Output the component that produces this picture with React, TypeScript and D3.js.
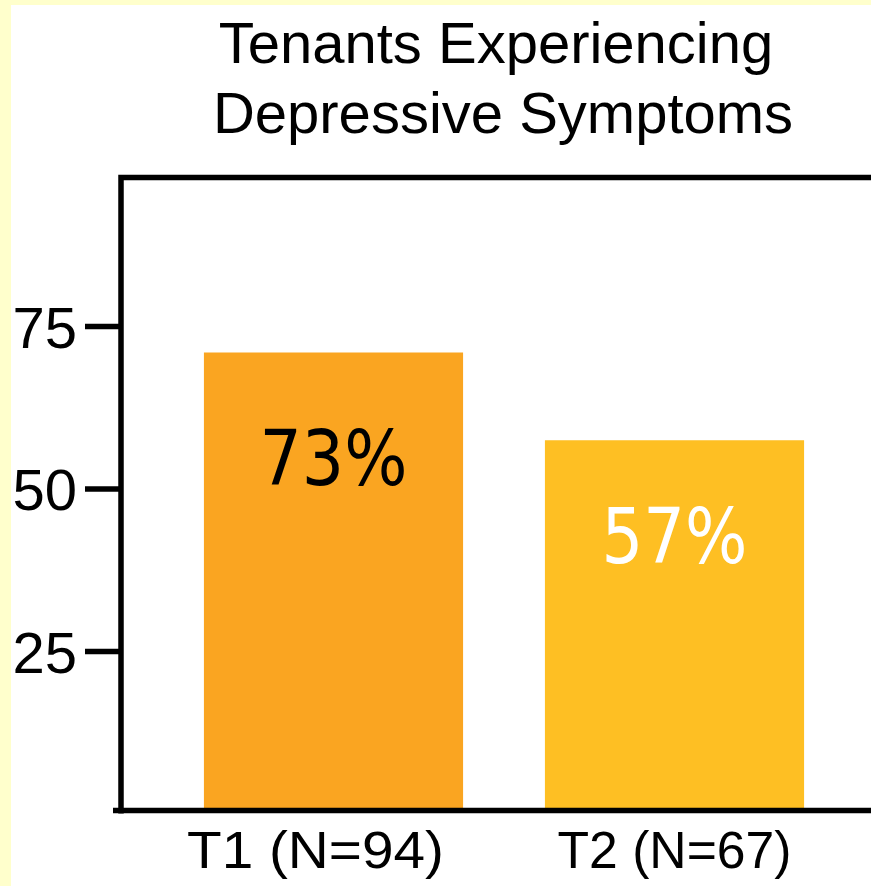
import React from "react";
import * as d3 from "d3";

// ---- data ----
const categories = ["T1 (N=94)", "T2 (N=67)"];
const barValues = [71, 57.5];
const valueLabels = ["73%", "57%"];
const yTicks = [25, 50, 75];
const titleLines = ["Tenants Experiencing", "Depressive Symptoms"];

// ---- layout / style ----
const W = 871;
const H = 886;
const BG = "#FFFFCC";
const barColors = ["#FAA521", "#FEBF23"];
const valueLabelColors = ["#000000", "#FFFFFF"];
const valueLabelOffsets = [132, 123];
const valueLabelWidths = [148, 146];
const catLabelDx = [-18, 0];
const catLabelWidths = [257, 234];
const titleX = [496, 503];
const frameLeft = 121;
const frameTop = 177.5;
const axisY = 810.5;
const strokeW = 5.5;
const ARIAL = "'Liberation Sans', Arial, Helvetica, sans-serif";

export default function App() {
  const y = d3.scaleLinear().domain([0, 100]).range([814, 164]);
  const x = d3
    .scaleBand<string>()
    .domain(categories)
    .range([163, 845])
    .paddingInner(0.24)
    .paddingOuter(0.12);

  return (
    <svg
      width={W}
      height={H}
      style={{ position: "absolute", left: 0, top: 0, display: "block" }}
    >
      <rect x={0} y={0} width={W} height={H} fill={BG} />
      <rect x={11} y={5} width={W} height={H} fill="#FFFFFF" />

      {/* title */}
      {titleLines.map((t, i) => (
        <text
          key={t}
          x={titleX[i]}
          y={63 + i * 70}
          textAnchor="middle"
          fontFamily={ARIAL}
          fontSize={58}
          fill="#000"
        >
          {t}
        </text>
      ))}

      {/* bars */}
      {categories.map((c, i) => (
        <rect
          key={c}
          x={x(c)}
          y={y(barValues[i])}
          width={x.bandwidth()}
          height={axisY - y(barValues[i])}
          fill={barColors[i]}
        />
      ))}

      {/* value labels */}
      {categories.map((c, i) => (
        <text
          key={"v" + c}
          x={(x(c) as number) + x.bandwidth() / 2}
          y={y(barValues[i]) + valueLabelOffsets[i]}
          textAnchor="middle"
          fontFamily="'DejaVu Sans', Verdana, sans-serif"
          fontSize={77}
          textLength={valueLabelWidths[i]}
          lengthAdjust="spacingAndGlyphs"
          fill={valueLabelColors[i]}
        >
          {valueLabels[i]}
        </text>
      ))}

      {/* frame */}
      <path
        d={`M${frameLeft},${axisY + 3}V${frameTop}H${W + 20}`}
        fill="none"
        stroke="#000"
        strokeWidth={strokeW}
      />
      <line
        x1={113}
        x2={W + 20}
        y1={axisY}
        y2={axisY}
        stroke="#000"
        strokeWidth={strokeW}
      />

      {/* y ticks */}
      {yTicks.map((t) => (
        <g key={t}>
          <line
            x1={85}
            x2={frameLeft}
            y1={y(t)}
            y2={y(t)}
            stroke="#000"
            strokeWidth={strokeW}
          />
          <text
            x={77}
            y={y(t) + 21}
            textAnchor="end"
            fontFamily={ARIAL}
            fontSize={58}
            fill="#000"
          >
            {t}
          </text>
        </g>
      ))}

      {/* category labels */}
      {categories.map((c, i) => (
        <text
          key={"c" + c}
          x={(x(c) as number) + x.bandwidth() / 2 + catLabelDx[i]}
          y={868}
          textAnchor="middle"
          fontFamily={ARIAL}
          fontSize={51}
          textLength={catLabelWidths[i]}
          lengthAdjust="spacingAndGlyphs"
          fill="#000"
        >
          {c}
        </text>
      ))}
    </svg>
  );
}
